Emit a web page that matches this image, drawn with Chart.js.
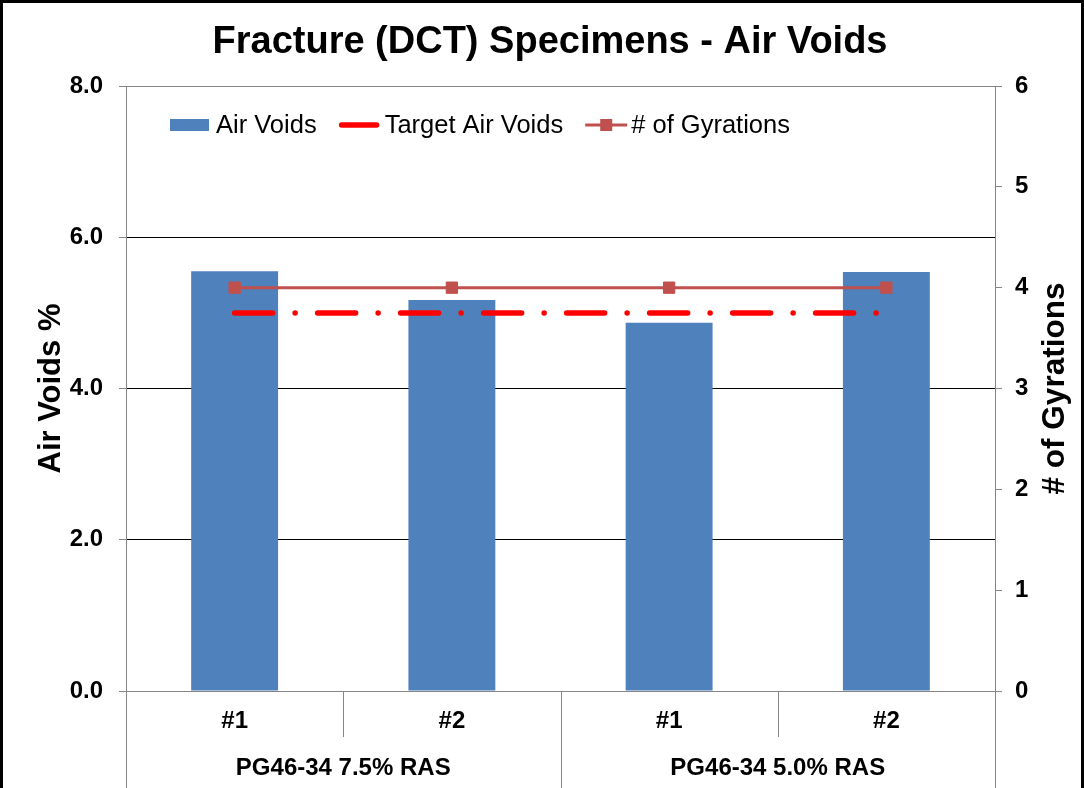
<!DOCTYPE html>
<html>
<head>
<meta charset="utf-8">
<title>Fracture (DCT) Specimens - Air Voids</title>
<script src="https://cdn.jsdelivr.net/npm/chart.js@4.4.0/dist/chart.umd.min.js"></script>
<style>
  html, body { margin: 0; padding: 0; background: #fff; }
  #wrap { width: 1084px; height: 788px; }
</style>
</head>
<body>
<div id="wrap"><canvas id="chart" width="1084" height="788"></canvas></div>
<script>
// Datos del gráfico
const specimens = ['#1', '#2', '#1', '#2'];
const mixes = ['PG46-34 7.5% RAS', 'PG46-34 5.0% RAS'];
const airVoids = [5.55, 5.17, 4.87, 5.54];
const targetAirVoids = [5.0, 5.0, 5.0, 5.0];
const gyrations = [4, 4, 4, 4];
const airVoidTicks = [0, 2, 4, 6, 8];
const gyrationTicks = [0, 1, 2, 3, 4, 5, 6];

const FONT = '"Liberation Sans", Arial, sans-serif';
const AXIS_GRAY = '#868686';

// marco, separadores del eje x, leyenda y título del eje derecho
const decorations = {
    id: 'decorations',
    beforeDraw(chart) {
        const c = chart.ctx;
        c.save();
        c.fillStyle = '#fff';
        c.fillRect(0, 0, chart.width, chart.height);
        c.restore();
    },
    afterDraw(chart) {
        const c = chart.ctx;
        const area = chart.chartArea;
        const x = chart.scales.x;
        const n = specimens.length;
        const perGroup = n / mixes.length;

        c.save();
        // separadores de categorías
        c.strokeStyle = AXIS_GRAY;
        c.lineWidth = 1;
        for (let i = 0; i <= n; i++) {
            let px;
            if (i === 0) px = area.left;
            else if (i === n) px = area.right;
            else px = (x.getPixelForValue(i - 1) + x.getPixelForValue(i)) / 2;
            px = Math.round(px) + 0.5;
            const bottom = i % perGroup === 0 ? chart.height : area.bottom + 46;
            c.beginPath();
            c.moveTo(px, area.bottom);
            c.lineTo(px, bottom);
            c.stroke();
        }

        // etiquetas de grupo
        c.fillStyle = '#000';
        c.font = 'bold 24px ' + FONT;
        c.textAlign = 'center';
        c.textBaseline = 'middle';
        mixes.forEach((label, g) => {
            const first = x.getPixelForValue(g * perGroup);
            const last = x.getPixelForValue(g * perGroup + perGroup - 1);
            c.fillText(label, (first + last) / 2, area.bottom + 77);
        });

        // título del eje derecho
        c.save();
        c.translate(area.right + 60, (area.top + area.bottom) / 2);
        c.rotate(-Math.PI / 2);
        c.font = 'bold 31.5px ' + FONT;
        c.fillText('# of Gyrations', 0, 0);
        c.restore();

        // leyenda
        const ly = 125;
        let lx = 170;
        c.font = '25.5px ' + FONT;
        c.textAlign = 'left';
        const items = [chart.data.datasets[2], chart.data.datasets[1], chart.data.datasets[0]];
        items.forEach(ds => {
            if (ds.type === 'bar') {
                c.fillStyle = ds.backgroundColor;
                c.fillRect(lx, ly - 6, 39, 12);
            } else if (ds.pointRadius === 0) {
                c.strokeStyle = ds.borderColor;
                c.lineWidth = ds.borderWidth;
                c.lineCap = 'round';
                c.beginPath();
                c.moveTo(lx + 3, ly);
                c.lineTo(lx + 38, ly);
                c.stroke();
            } else {
                c.strokeStyle = ds.borderColor;
                c.lineWidth = ds.borderWidth;
                c.lineCap = 'butt';
                c.beginPath();
                c.moveTo(lx, ly);
                c.lineTo(lx + 42, ly);
                c.stroke();
                c.fillStyle = ds.backgroundColor;
                c.fillRect(lx + 15, ly - 6, 12, 12);
            }
            lx += 42 + 4;
            c.fillStyle = '#000';
            c.fillText(ds.label, lx, ly + 1);
            lx += c.measureText(ds.label).width + 22;
        });

        // marco exterior
        c.strokeStyle = '#000';
        c.lineWidth = 3;
        c.strokeRect(1.5, 1.5, chart.width - 3, chart.height + 10);
        c.restore();
    }
};

Chart.defaults.font.family = FONT;
Chart.defaults.color = '#000';

const ctx = document.getElementById('chart').getContext('2d');

new Chart(ctx, {
    type: 'bar',
    data: {
        labels: specimens,
        datasets: [
            {
                type: 'line',
                label: '# of Gyrations',
                data: gyrations,
                yAxisID: 'y1',
                borderColor: '#C0504D',
                backgroundColor: '#C0504D',
                borderWidth: 3,
                pointStyle: 'rect',
                pointRadius: 8,
                pointBorderWidth: 1,
                order: 1
            },
            {
                type: 'line',
                label: 'Target Air Voids',
                data: targetAirVoids,
                yAxisID: 'y',
                borderColor: '#FF0000',
                borderWidth: 5.5,
                borderDash: [38, 22.5, 0, 22.5],
                borderCapStyle: 'round',
                pointRadius: 0,
                order: 2
            },
            {
                type: 'bar',
                label: 'Air Voids',
                data: airVoids,
                yAxisID: 'y',
                backgroundColor: '#4F81BD',
                categoryPercentage: 1,
                barPercentage: 0.4,
                order: 3
            }
        ]
    },
    options: {
        responsive: false,
        animation: false,
        layout: { padding: { left: 16, right: 0, top: 0, bottom: 0 } },
        plugins: {
            legend: { display: false },
            tooltip: { enabled: false },
            title: {
                display: true,
                text: 'Fracture (DCT) Specimens - Air Voids',
                color: '#000',
                font: { size: 38, weight: 'bold' },
                padding: { top: 20, bottom: 20.4 }
            }
        },
        scales: {
            x: {
                grid: { drawOnChartArea: false, drawTicks: false },
                border: { color: AXIS_GRAY },
                ticks: { padding: 16, font: { size: 24, weight: 'bold' }, color: '#000' },
                afterFit: s => { s.height = 97; }
            },
            y: {
                position: 'left',
                min: airVoidTicks[0],
                max: airVoidTicks[airVoidTicks.length - 1],
                ticks: {
                    stepSize: airVoidTicks[1] - airVoidTicks[0],
                    padding: 16,
                    font: { size: 24, weight: 'bold' },
                    color: '#000',
                    callback: v => v.toFixed(1)
                },
                grid: {
                    color: c => (c.tick && (c.tick.value === 0 || c.tick.value === 8)) ? AXIS_GRAY : '#000',
                    tickColor: AXIS_GRAY,
                    tickLength: 7
                },
                border: { color: AXIS_GRAY },
                title: {
                    display: true,
                    text: 'Air Voids %',
                    color: '#000',
                    font: { size: 31, weight: 'bold' },
                    padding: { top: 17, bottom: 0 }
                },
                afterFit: s => { s.width = 110; }
            },
            y1: {
                position: 'right',
                min: gyrationTicks[0],
                max: gyrationTicks[gyrationTicks.length - 1],
                ticks: {
                    stepSize: gyrationTicks[1] - gyrationTicks[0],
                    padding: 13,
                    font: { size: 24, weight: 'bold' },
                    color: '#000'
                },
                grid: { drawOnChartArea: false, tickColor: AXIS_GRAY, tickLength: 7 },
                border: { color: AXIS_GRAY },
                afterFit: s => { s.width = 89; }
            }
        }
    },
    plugins: [decorations]
});
</script>
</body>
</html>
